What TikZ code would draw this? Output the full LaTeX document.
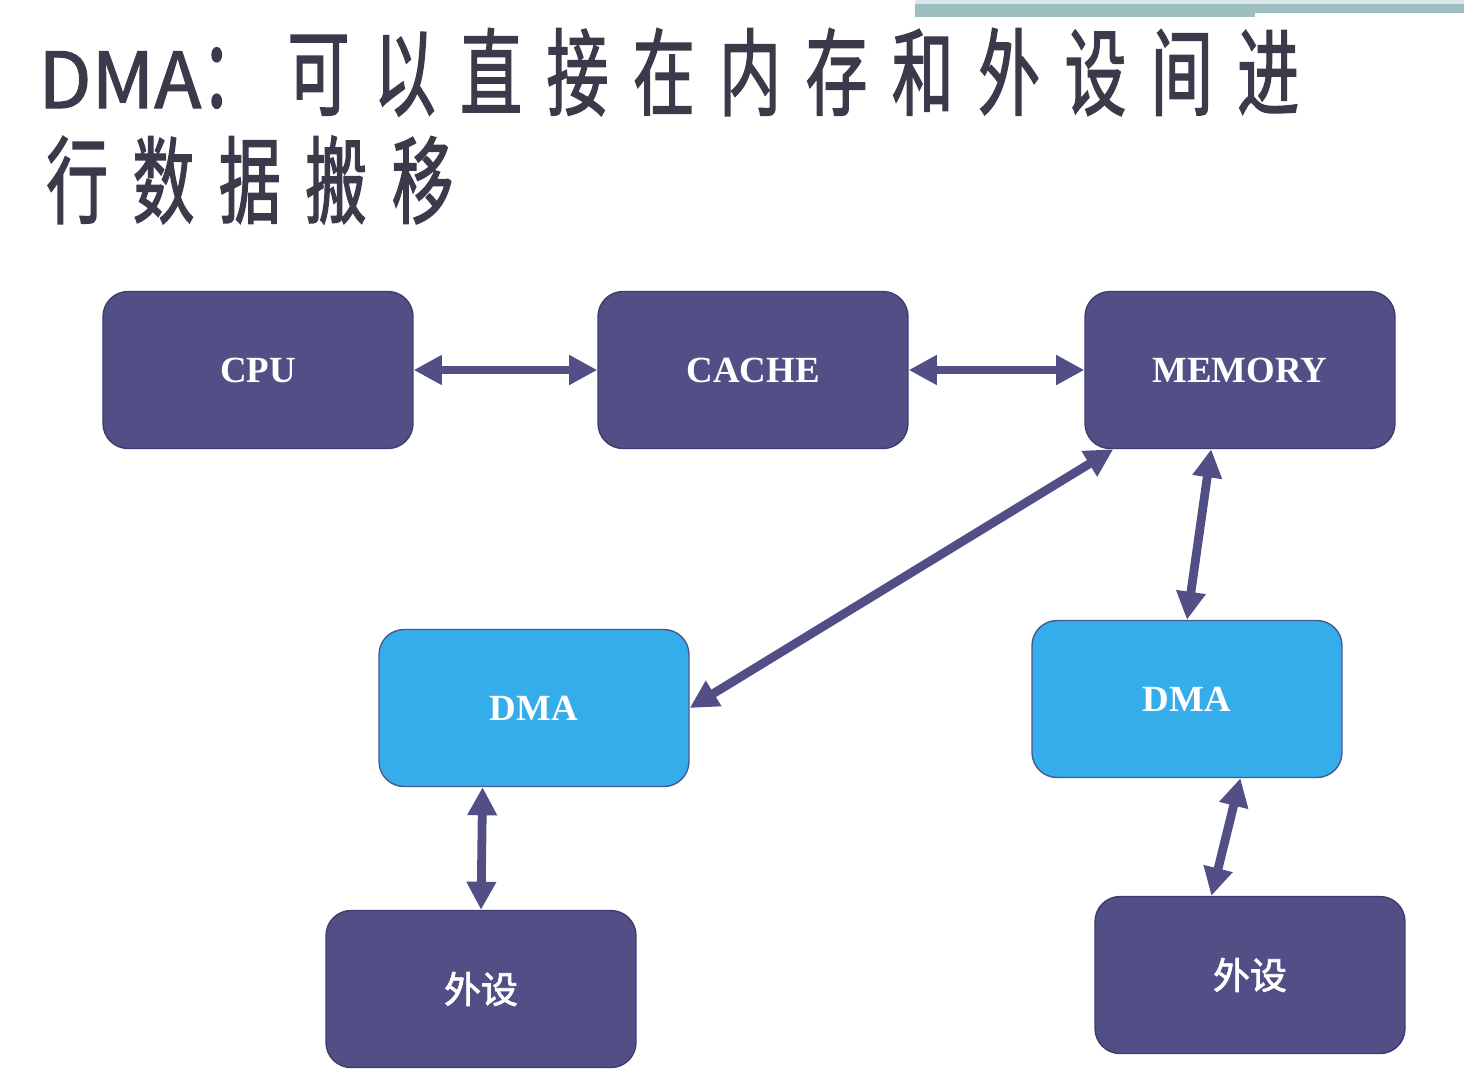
\documentclass[tikz,border=0pt]{standalone}
\usepackage{fontspec}
\usetikzlibrary{arrows.meta}
\setmainfont{Liberation Serif}
\newfontfamily\titlelatin[FakeBold=1.5]{Noto Sans CJK SC}
\newfontfamily\titlefont[FakeStretch=0.65,LetterSpace=26,FakeBold=1.5]{Noto Sans CJK SC}
\newfontfamily\cjkfont[FakeBold=2]{Noto Sans CJK SC}

\definecolor{boxblue}{RGB}{82,79,135}
\definecolor{boxedge}{RGB}{62,60,110}
\definecolor{dmablue}{RGB}{54,173,235}
\definecolor{dmaedge}{RGB}{70,90,140}
\definecolor{titlegray}{RGB}{58,58,75}
\definecolor{barteal}{RGB}{157,191,192}

\begin{document}
\begin{tikzpicture}[x=0.02cm, y=-0.02cm,
	box/.style={rectangle, rounded corners=0.5cm, minimum width=6.2cm, minimum height=3.14cm, line width=0.8pt, text=white, font=\fontsize{21}{24}\selectfont\bfseries},
	hostbox/.style={box, fill=boxblue, draw=boxedge},
	dmabox/.style={box, fill=dmablue, draw=dmaedge},
	link/.style={draw=boxblue, line width=5pt, {Triangle[length=16pt,width=16pt]}-{Triangle[length=16pt,width=16pt]}},
	title/.style={anchor=base west, inner sep=0pt, text=titlegray}]

		\fill[white] (0,0) rectangle (1464,1090);
		\useasboundingbox (0,0) rectangle (1464,1090);

		% Bar and title
		\fill[barteal!35] (915,0) rectangle (1464,4);
		\fill[barteal] (915,4) rectangle (1255,17);
		\fill[barteal] (1255,4) rectangle (1464,13);
		\node[title] (title_one) at (38,108) {{\titlelatin\fontsize{44}{50}\selectfont DMA}{\titlefont\fontsize{54}{60}\selectfont ：可以直接在内存和外设间进}};
		\node[title] (title_two) at (46,216) {\titlefont\fontsize{54}{60}\selectfont 行数据搬移};

		% Define the nodes
		\node[hostbox] (cpu) at (258,370) {CPU};
		\node[hostbox] (cache) at (753,370) {CACHE};
		\node[hostbox] (memory) at (1240,370) {MEMORY};
		\node[dmabox] (dma_left) at (534,708) {DMA};
		\node[dmabox] (dma_right) at (1187,699) {DMA};
		\node[hostbox] (periph_left) at (481,989) {\cjkfont\mdseries 外设};
		\node[hostbox] (periph_right) at (1250,975) {\cjkfont\mdseries 外设};

		% Define the edges
		\draw[link] (cpu) -- (cache);
		\draw[link] (cache) -- (memory);
		\draw[link] (memory.212) -- (dma_left.east);
		\draw[link] (memory.250) -- (dma_right.north);
		\draw[link] (dma_right.304) -- (periph_right.116);
		\draw[link] (dma_left.237) -- (periph_left.north);

	\end{tikzpicture}
\end{document}
